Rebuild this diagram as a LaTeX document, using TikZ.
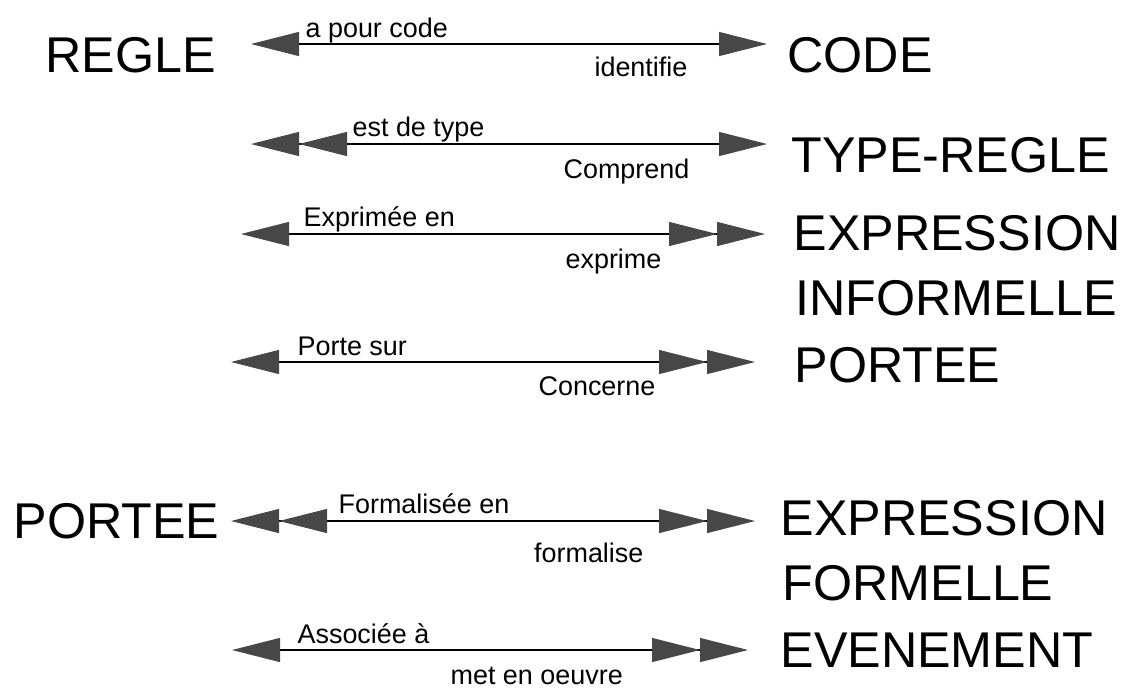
\documentclass[tikz,border=0pt]{standalone}
\usepackage{fontspec}
\setmainfont{Liberation Sans}
\usetikzlibrary{arrows.meta}
\usetikzlibrary{positioning}

\tikzset{hd/.tip={Triangle[length=14.4mm,width=7.2mm,sep=0pt,color=black!72]},
	hhd/.tip={Triangle[length=14.4mm,width=7.2mm,sep=0pt,color=black!72]Triangle[length=14.4mm,width=7.2mm,sep=0pt,color=black!72]}}

\begin{document}
\begin{tikzpicture}[x=0.03cm, y=-0.03cm, line width=1pt,
		ent/.style = {anchor=base west, inner sep=0pt, font=\fontsize{42.9}{46}\selectfont},
		rel/.style = {anchor=base west, inner sep=0pt, font=\fontsize{23}{26}\selectfont},
		inv/.style = {rel, anchor=base east}]
		\useasboundingbox (0,0) rectangle (1131,689);
		% entites
		\node[ent] (regle) at (45,72) {REGLE};
		\node[ent] (code) at (787,72) {CODE};
		\node[ent] (type) at (791,172) {TYPE-REGLE};
		\node[ent] (expr1) at (793,250) {EXPRESSION};
		\node[ent] (inf) at (795,315) {INFORMELLE};
		\node[ent] (portee1) at (794,382) {PORTEE};
		\node[ent] (portee2) at (13,538) {PORTEE};
		\node[ent] (expr2) at (780,535) {EXPRESSION};
		\node[ent] (form) at (782,600) {FORMELLE};
		\node[ent] (even) at (780,667) {EVENEMENT};
		% extremites des liens
		\coordinate (a1) at (251,44); \coordinate (b1) at (767,44);
		\coordinate (a2) at (251,144); \coordinate (b2) at (767,144);
		\coordinate (a3) at (241,234); \coordinate (b3) at (765,234);
		\coordinate (a4) at (231,362); \coordinate (b4) at (755,362);
		\coordinate (a5) at (231,521); \coordinate (b5) at (755,521);
		\coordinate (a6) at (232,650); \coordinate (b6) at (748,650);
		\draw[hd-hd] (a1) -- (b1);
		\draw[hhd-hd] (a2) -- (b2);
		\draw[hd-hhd] (a3) -- (b3);
		\draw[hd-hhd] (a4) -- (b4);
		\draw[hhd-hhd] (a5) -- (b5);
		\draw[hd-hhd] (a6) -- (b6);
		% roles
		\node[rel] (r1a) at (305,37) {a pour code};
		\node[inv] (r1b) at (688,76) {identifie};
		\node[rel] (r2a) at (352,136) {est de type};
		\node[inv] (r2b) at (690,178) {Comprend};
		\node[rel] (r3a) at (303,226) {Exprimée en};
		\node[inv] (r3b) at (662,268) {exprime};
		\node[rel] (r4a) at (297,355) {Porte sur};
		\node[inv] (r4b) at (656,395) {Concerne};
		\node[rel] (r5a) at (338,513) {Formalisée en};
		\node[inv] (r5b) at (644,562) {formalise};
		\node[rel] (r6a) at (297,643) {Associée à};
		\node[rel] (r6b) at (450,684) {met en oeuvre};
	\end{tikzpicture}
\end{document}
